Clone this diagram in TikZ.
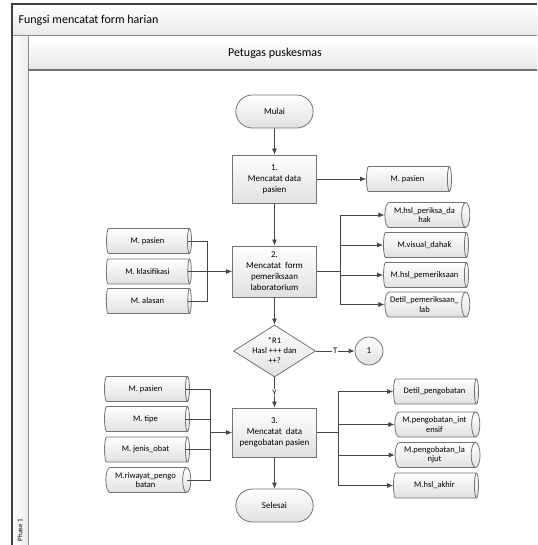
\documentclass[tikz,border=0pt]{standalone}
\usepackage{fontspec}
\setmainfont{Carlito}
\usetikzlibrary{shapes.geometric,shapes.misc,arrows.meta}
\begin{document}
\begin{tikzpicture}[x=1pt,y=-1pt,
  ln/.style={draw=black!72, line width=0.8pt},
  arr/.style={ln, -{Latex[length=6pt,width=5pt]}},
  fromcyl/.style={ln, shorten <=-4pt},
  procbox/.style={rectangle, draw=black!55, line width=0.8pt, top color=white, bottom color=black!12,
    minimum width=84pt, minimum height=48pt, align=center, font=\fontsize{9}{11}\selectfont, inner sep=1pt},
  term/.style={rounded rectangle, draw=black!55, line width=0.8pt, top color=white, bottom color=black!12,
    minimum width=84pt, minimum height=33pt, font=\fontsize{9}{11}\selectfont},
  dbcyl/.style={cylinder, shape aspect=0.5, draw=black!55, line width=0.8pt, top color=white, bottom color=black!12,
    minimum height=85pt, minimum width=25pt, align=center, font=\fontsize{8.5}{9.5}\selectfont, inner sep=0.5pt},
  dec/.style={diamond, draw=black!55, line width=0.8pt, top color=white, bottom color=black!12,
    minimum width=82pt, minimum height=52pt, inner sep=0pt},
  conn/.style={circle, draw=black!55, line width=0.8pt, top color=white, bottom color=black!12,
    minimum size=28pt, inner sep=0pt, font=\fontsize{9}{11}\selectfont},
  lbl/.style={fill=white, inner sep=1pt, font=\fontsize{8.5}{10}\selectfont}
]
\useasboundingbox (0,0) rectangle (537,545);
% frame
\fill[top color=white, bottom color=black!9] (12,4) rectangle (537,36);
\fill[top color=white, bottom color=black!9] (28,37) rectangle (537,70);
\fill[left color=white, right color=black!7] (12,36) rectangle (28,545);
\draw[black!45, line width=1pt] (12,36) -- (537,36);
\draw[black!45, line width=0.8pt] (28,36) -- (28,545);
\draw[black!55, line width=1.2pt] (28,70) -- (537,70);
\draw[black!75, line width=1.2pt] (537,4) -- (12,4) -- (12,545);
\node[anchor=west, font=\fontsize{12}{14}\selectfont] (title) at (15,20) {Fungsi mencatat form harian};
\node[font=\fontsize{12}{14}\selectfont] (lane) at (275,53) {Petugas puskesmas};
\node[rotate=90, font=\fontsize{7}{8}\selectfont] (phase) at (20,530) {Phase 1};

% main column
\node[term] (start) at (274.5,111.5) {Mulai};
\node[procbox] (p1) at (274.5,179) {1.\\Mencatat data\\pasien};
\node[dbcyl] (o1) at (407.5,179) {M. pasien};
\node[procbox, minimum height=51pt] (p2) at (274.5,271.5) {2.\\Mencatat\ \ form\\pemeriksaan\\laboratorium};
\node[dec] (d) at (274.5,351) {};
\node[align=center, font=\fontsize{8.5}{10}\selectfont, inner sep=0pt] (dtext) at (d) {*R1\\Hasl +++ dan\\++?};
\node[conn] (c1) at (369,351) {1};
\node[procbox, minimum height=49pt] (p3) at (274.5,432.5) {3.\\Mencatat\ \ data\\pengobatan pasien};
\node[term] (finish) at (274.5,505.5) {Selesai};

% inputs / outputs of 2
\node[dbcyl] (i21) at (147.5,241) {M. pasien};
\node[dbcyl] (i22) at (147.5,271.5) {M. klasifikasi};
\node[dbcyl] (i23) at (147.5,301) {M. alasan};
\node[dbcyl] (o21) at (424.5,215) {M.hsl\_periksa\_da\\hak};
\node[dbcyl] (o22) at (424.5,245) {M.visual\_dahak};
\node[dbcyl] (o23) at (424.5,275) {M.hsl\_pemeriksaan};
\node[dbcyl] (o24) at (424.5,304.5) {Detil\_pemeriksaan\_\\lab};

% inputs / outputs of 3
\node[dbcyl] (i31) at (145.5,389) {M. pasien};
\node[dbcyl] (i32) at (145.5,419) {M. tipe};
\node[dbcyl] (i33) at (145.5,449.5) {M. jenis\_obat};
\node[dbcyl] (i34) at (145.5,480) {M.riwayat\_pengo\\batan};
\node[dbcyl] (o31) at (434.5,391.5) {Detil\_pengobatan};
\node[dbcyl] (o32) at (434.5,424.5) {M.pengobatan\_int\\ensif};
\node[dbcyl] (o33) at (434.5,455) {M.pengobatan\_la\\njut};
\node[dbcyl] (o34) at (434.5,485.5) {M.hsl\_akhir};

% connectors
\draw[arr] (start) -- (p1);
\draw[arr] (p1) -- (p2);
\draw[arr] (p1) -- (o1);
\coordinate (b2l) at (207,271.5);
\draw[fromcyl] (i21.east) -| (b2l);
\draw[fromcyl] (i23.east) -| (b2l);
\draw[arr, shorten <=-4pt] (i22.east) -- (p2.west);
\coordinate (b2r) at (340,271.5);
\draw[ln] (p2.east) -- (b2r);
\draw[arr] (b2r) |- (o21.west);
\draw[arr] (b2r) |- (o22.west);
\draw[arr] (b2r) |- (o23.west);
\draw[arr] (b2r) |- (o24.west);
\draw[arr] (p2) -- (d);
\draw[arr] (d) -- node[lbl] (tl) {T} (c1);
\draw[arr] (d) -- node[lbl] (yl) {Y} (p3);
\coordinate (b3l) at (210,432.5);
\draw[fromcyl] (i31.east) -| (b3l);
\draw[fromcyl] (i34.east) -| (b3l);
\draw[fromcyl] (i32.east) -- (i32.east -| b3l);
\draw[fromcyl] (i33.east) -- (i33.east -| b3l);
\draw[arr] (b3l) -- (p3.west);
\coordinate (b3r) at (338,432.5);
\draw[ln] (p3.east) -- (b3r);
\draw[arr] (b3r) |- (o31.west);
\draw[arr] (b3r) |- (o32.west);
\draw[arr] (b3r) |- (o33.west);
\draw[arr] (b3r) |- (o34.west);
\draw[arr] (p3) -- (finish);
\end{tikzpicture}
\end{document}
